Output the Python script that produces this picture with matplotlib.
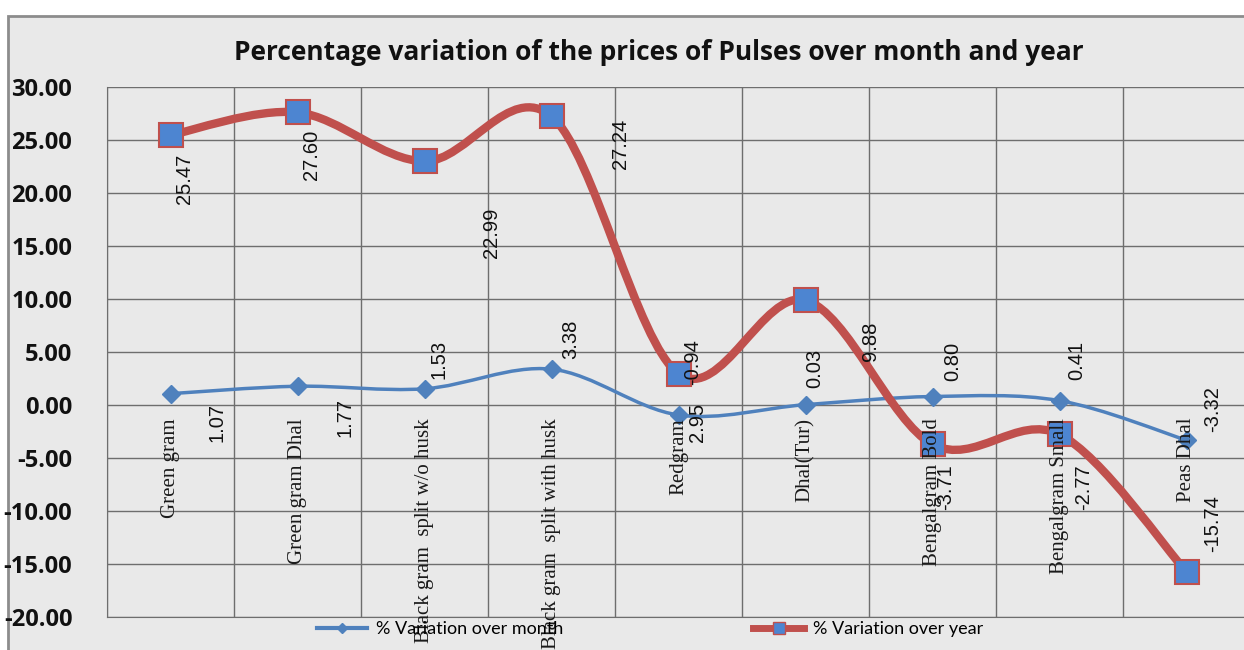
import numpy as np
import matplotlib.pyplot as plt
from matplotlib.path import Path
from matplotlib.patches import PathPatch, Rectangle
from matplotlib.lines import Line2D

# data
categories = ['Green gram', 'Green gram Dhal', 'Black gram  split w/o husk',
              'Black gram  split with husk', 'Redgram', 'Dhal(Tur)',
              'Bengalgram Bold', 'Bengalgram Small', 'Peas Dhal']
over_month = [1.07, 1.77, 1.53, 3.38, -0.94, 0.03, 0.80, 0.41, -3.32]
over_year = [25.47, 27.60, 22.99, 27.24, 2.95, 9.88, -3.71, -2.77, -15.74]
y_ticks = [30, 25, 20, 15, 10, 5, 0, -5, -10, -15, -20]

# where the data labels sit, pixels right / down of each point
month_off = [(47, 29), (47, 31), (14, -29), (19, -30), (14, -53),
             (9, -36), (20, -35), (17, -40), (26, -31)]
year_off = [(14, 44), (14, 42), (67, 72), (69, 28), (19, 49),
            (65, 41), (13, 43), (24, 53), (26, -48)]

BLUE = '#4F81BD'
RED = '#C0504D'
SQ = '#4D85D1'


def smooth_path(xs, ys):
    # excel-like smoothed line: bezier segments with catmull-rom handles
    pts = np.column_stack([xs, ys]).astype(float)
    n = len(pts)
    verts = [pts[0]]
    codes = [Path.MOVETO]
    for i in range(n - 1):
        p0 = pts[max(i - 1, 0)]
        p1 = pts[i]
        p2 = pts[i + 1]
        p3 = pts[min(i + 2, n - 1)]
        verts += [p1 + (p2 - p0) / 6, p2 - (p3 - p1) / 6, p2]
        codes += [Path.CURVE4] * 3
    return Path(verts, codes)


fig = plt.figure(figsize=(12.44, 6.5), dpi=100)
fig.patch.set_facecolor('white')
fig.patches.append(Rectangle((8 / 1244, -0.02), 1.1, 1.02 - 16 / 650,
                             transform=fig.transFigure, facecolor='#e9e9e9',
                             edgecolor='#8c8c8c', linewidth=2, zorder=-5))

ax = fig.add_axes([107 / 1244, 33 / 650, 1143 / 1244, 530 / 650])
ax.set_zorder(2)
ax.set_facecolor('none')
x = np.arange(len(categories))
ax.set_xlim(-0.5, len(categories) - 0.5)
ax.set_ylim(-20, 30)

ax.set_yticks(y_ticks)
ax.set_yticklabels([f'{v:.2f}' for v in y_ticks], family='Open Sans',
                   fontweight='bold', fontsize=17, color='#111111')
ax.tick_params(axis='y', length=0, pad=25)
ax.set_xticks(np.arange(len(categories) + 1) - 0.5)
ax.set_xticklabels([])
ax.tick_params(axis='x', length=0)
ax.grid(True, color='#6e6e6e', linewidth=1)
ax.set_axisbelow(True)
for s in ['top', 'right']:
    ax.spines[s].set_visible(False)
ax.spines['left'].set_color('#6e6e6e')
ax.spines['bottom'].set_color('#6e6e6e')

ax.add_patch(PathPatch(smooth_path(x, over_month), facecolor='none',
                       edgecolor=BLUE, linewidth=2.5, zorder=3))
ax.plot(x, over_month, linestyle='none', marker='D', markersize=9,
        color=BLUE, zorder=4)
ax.add_patch(PathPatch(smooth_path(x, over_year), facecolor='none',
                       edgecolor=RED, linewidth=6, capstyle='round', zorder=5))
ax.plot(x, over_year, linestyle='none', marker='s', markersize=17,
        markerfacecolor=SQ, markeredgecolor=RED, markeredgewidth=1.5, zorder=6)

for i, name in enumerate(categories):
    ax.annotate(name, (i, 0), xytext=(0, -13), textcoords='offset pixels',
                rotation=90, ha='center', va='top', family='Liberation Serif',
                fontsize=15, color='#1a1a1a', zorder=7, annotation_clip=False)

for i, v in enumerate(over_month):
    dx, dy = month_off[i]
    ax.annotate(f'{v:.2f}', (i, v), xytext=(dx, -dy), textcoords='offset pixels',
                rotation=90, ha='center', va='center', family='Liberation Sans',
                fontsize=14.5, color='#111111', zorder=8)
for i, v in enumerate(over_year):
    dx, dy = year_off[i]
    ax.annotate(f'{v:.2f}', (i, v), xytext=(dx, -dy), textcoords='offset pixels',
                rotation=90, ha='center', va='center', family='Liberation Sans',
                fontsize=14.5, color='#111111', zorder=8)

fig.text(659 / 1244, 1 - 52 / 650,
         'Percentage variation of the prices of Pulses over month and year',
         ha='center', va='center', family='Open Sans', fontweight='bold',
         fontsize=19, color='#111111')

handles = [Line2D([], [], color=BLUE, linewidth=3, marker='D', markersize=5),
           Line2D([], [], color=RED, linewidth=5, marker='s', markersize=9,
                  markerfacecolor=SQ, markeredgecolor=RED)]
fig.legend(handles, ['% Variation over month', '% Variation over year'],
           loc='center', bbox_to_anchor=(650 / 1244, 21 / 650), ncol=2,
           frameon=False, prop={'family': 'Lato', 'size': 13},
           columnspacing=10.5, handlelength=2.8, handletextpad=0.5)

fig.savefig('out.png', dpi=100)
